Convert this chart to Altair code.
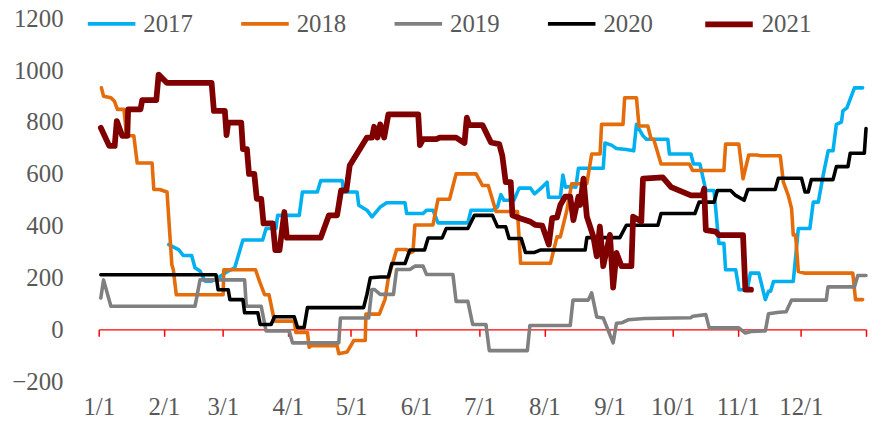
import altair as alt
import pandas as pd

years = ["2017", "2018", "2019", "2020", "2021"]
colors = ["#00B0F0", "#E46C0A", "#808080", "#000000", "#800000"]
widths = [3.6, 3.6, 3.6, 3.6, 5.8]
month_ticks = [(2017, m) for m in range(1, 13)] + [(2018, 1)]
y_ticks = [-200, 0, 200, 400, 600, 800, 1000, 1200]

# day of year (0 = Jan 1) and value
d17 = [33.3, 38, 40.3, 44.2, 45.8, 48.2, 50.6, 53.7, 56.8, 61.6, 64.7, 68.6, 78, 79.6, 84.3, 85.1, 95.4, 96.9, 104, 105.6,
       115.8, 116.6, 122.9, 123.7, 127.6, 130, 133.9, 137, 145.7, 146.5, 154.3, 155.9, 159, 161.4, 175.6, 177.1, 187.3, 189.7,
       191.3, 192.8, 197.5, 200, 205.4, 207.3, 211, 213.3, 214, 219.6, 220.8, 222, 224.4, 227, 228.2, 240, 240.8, 243.9, 246.3,
       251, 254.5, 255.8, 258.9, 260.5, 270.7, 271.5, 281.7, 282.9, 286, 288.8, 292.7, 295, 297.4, 298.2, 303, 304.6, 308.5,
       310, 314, 317.1, 318.6, 319.6, 321, 330.4, 332.8, 338.3, 339.9, 342.3, 344.6, 347, 349.3, 350.9, 353.3, 354, 355.9,
       359.5, 363.4]
v17 = [327, 308, 285, 285, 238, 225, 186, 186, 199, 225, 238, 345, 345, 389, 389, 440, 440, 530, 530, 574,
       574, 530, 530, 479, 460, 434, 472, 489, 489, 447, 447, 460, 460, 411, 411, 460, 460, 472,
       520, 498, 498, 545, 545, 523, 549, 568, 510, 510, 596, 549, 551, 549, 622, 622, 719, 711, 698,
       694, 689, 791, 747, 734, 734, 677, 677, 638, 638, 536, 536, 332, 332, 230, 230, 153, 153,
       217, 217, 115, 147, 147, 185, 185, 389, 389, 491, 491, 594, 689, 689, 791, 800, 843, 855,
       932, 932]

d18 = [1.3, 2.3, 5.8, 7.5, 8.9, 12, 13.3, 16.7, 18.3, 25.4, 26.2, 29, 32.5, 34.8, 35.5, 36.9, 59.2, 59.5, 74.6, 76.5,
       78.9, 81, 83.6, 93, 93.8, 99.3, 100.1, 101, 113.4, 114.2, 118.2, 121.3, 126.8, 127.1, 133.5, 136.2, 137.8, 141.7,
       146.5, 148, 149.5, 150.4, 159, 161.4, 166.9, 170, 179.5, 182.6, 185.3, 189, 199.2, 200.7, 214.9, 218, 219.6, 222.7,
       225, 232.2, 234.5, 238.5, 239.2, 249.4, 250.2, 255.8, 257, 261.2, 262.8, 264, 267.5, 281, 282.5, 297.4, 298.2,
       304.5, 306.5, 309.2, 313, 315, 324.2, 325.7, 328, 329.6, 330.4, 331.5, 332.8, 336, 358.7, 360, 363.4]
v18 = [932, 900, 894, 880, 849, 849, 747, 747, 642, 642, 540, 540, 530, 249, 230, 134, 134, 230, 230, 185,
       134, 134, 32, 32, -12, -12, -69, -63, -63, -94, -87, -43, -43, 59, 59, 116, 199, 308,
       308, 295, 300, 403, 403, 502, 502, 600, 600, 555, 555, 455, 455, 255, 255, 357, 357, 460,
       562, 562, 677, 677, 791, 791, 894, 894, 785, 785, 734, 734, 638, 638, 613, 613, 715,
       715, 581, 673, 673, 670, 670, 568, 517, 466, 364, 364, 223, 217, 217, 115, 115]

d19 = [1, 2.3, 5.8, 45.8, 48.2, 69.4, 70.2, 77.3, 79.6, 90.6, 92.2, 114.2, 115, 128.4, 129.9, 131.2, 133.9, 140.2,
       141.7, 148, 150.4, 154.3, 155.9, 168.5, 170, 175.6, 177.9, 184.2, 185.8, 203.9, 205.1, 224.3, 225.6, 232.9,
       234.5, 236.9, 240, 244.7, 246.3, 249, 251.8, 259.7, 281.7, 282.6, 288.8, 290.4, 304.5, 307.6, 310.3, 317.1,
       318.6, 323.6, 327, 329.6, 346.1, 346.9, 359.5, 361.1, 365]
v19 = [121, 191, 89, 89, 191, 191, 89, 89, -6, -6, -52, -52, 44, 44, 154, 154, 135, 135,
       231, 231, 244, 244, 212, 212, 108, 108, 19, 19, -82, -82, 15, 15, 113, 113,
       141, 48, 44, -52, 24, 26, 37, 42, 45, 51, 57, 6, 6, -14, -8, -6,
       60, 66, 68, 113, 113, 164, 164, 208, 208]

d20 = [1, 55.8, 56.8, 61.6, 62.4, 68.6, 69.4, 75.7, 76.8, 82, 83.6, 93, 94.6, 97.7, 99.3, 126, 127.6, 129.2, 133.9,
       137.8, 139.4, 145.7, 148, 155, 156.7, 163.4, 165.3, 175.6, 178.7, 187.3, 189.7, 193.6, 195.2, 201, 203, 207.3,
       210, 231.4, 232.2, 247.9, 251, 266, 267.5, 283.6, 285.6, 292.7, 294.3, 300.6, 303, 307, 308.8, 321.8, 323.3,
       334.3, 336, 337.5, 339, 349.3, 350.9, 356.4, 357.5, 364.2, 365]
v20 = [211, 211, 153, 153, 115, 115, 64, 64, 19, 19, 49, 49, 7, 7, 84, 84, 135, 199, 202,
       202, 254, 254, 306, 306, 353, 353, 389, 389, 440, 440, 396, 396, 351, 351, 297, 297,
       306, 306, 354, 354, 402, 402, 447, 447, 491, 491, 536, 536, 517, 498, 540, 540, 583,
       583, 530, 530, 578, 578, 628, 628, 680, 680, 775]

d21 = [1, 5, 7.6, 8.6, 11.2, 13.6, 14, 19.9, 20.7, 27.4, 28.5, 32.5, 53.7, 54.8, 60, 60.8, 61.6, 67.8, 68.6, 70.5,
       71.5, 74, 75.2, 77.3, 78.4, 82.8, 84, 86, 88.3, 89.5, 105.6, 109.5, 113.4, 115.3, 117.8, 119.4, 127.6, 130, 131,
       132.6, 133.9, 135.8, 137.8, 152, 152.8, 154.3, 160.6, 162.2, 170, 174, 175.1, 176.3, 182.6, 186.6, 190.5, 192,
       193.6, 196, 196.8, 200.7, 205.4, 207.8, 211, 214.1, 215.7, 218, 219.6, 221.9, 224.3, 225.8, 228.2, 229, 230.6,
       232.2, 235.3, 236.9, 238.4, 240, 243.2, 244.7, 246.3, 248.7, 253.4, 254.2, 258.1, 258.9, 268.3, 272.3, 276,
       281.7, 287.2, 288, 288.8, 293.5, 295, 306.5, 307.6, 310.3]
v21 = [778, 708, 708, 804, 747, 747, 849, 849, 885, 885, 983, 951, 951, 843, 843, 750, 798, 798, 696, 696,
       600, 600, 504, 504, 409, 409, 306, 306, 453, 354, 354, 440, 440, 536, 536, 632, 740, 740, 782,
       740, 791, 740, 830, 830, 711, 734, 734, 740, 740, 719, 817, 788, 788, 721, 715, 670,
       568, 568, 440, 428, 415, 403, 400, 327, 429, 432, 480, 512, 512, 422, 512, 480, 582,
       435, 358, 282, 397, 244, 365, 161, 295, 244, 244, 435, 416, 582, 587, 549, 536,
       517, 517, 543, 383, 377, 364, 364, 153, 153]

series = [("2017", d17, v17), ("2018", d18, v18), ("2019", d19, v19), ("2020", d20, v20), ("2021", d21, v21)]

base = pd.Timestamp("2017-01-01")
rows = []
for yr, ds, vs in series:
    n = min(len(ds), len(vs))
    for i in range(n):
        t = base + pd.to_timedelta(ds[i] * 24 * 60, unit="min")
        rows.append({"year": yr, "date": t.strftime("%Y-%m-%dT%H:%M:%S"), "value": vs[i], "order": i})
df = pd.DataFrame(rows)

FONT = "Liberation Serif"
TXT = "#595959"
FS = 25

legend_common = dict(
    title=None, orient="none", legendX=-13, legendY=-21, direction="horizontal",
    symbolType="stroke", symbolSize=2300, labelFontSize=FS, labelFont=FONT, labelColor=TXT,
    labelOffset=6, columnPadding=40.7, padding=0,
)

x_axis = alt.Axis(
    values=[alt.DateTime(year=y, month=m, date=1) for y, m in month_ticks],
    format="%-m/%-d",
    labelExpr="year(datum.value) > 2017 ? '' : datum.label",
    title=None, grid=False, offset=-52.3,
    domainColor="#FF0000", domainWidth=1.5, tickColor="#FF0000", tickWidth=1.5, tickSize=7,
    labelPadding=59, labelFontSize=FS, labelFont=FONT, labelColor=TXT,
    labelFlush=False, labelOverlap=False, labelBound=False,
)
y_axis = alt.Axis(
    values=y_ticks, format="d", title=None, grid=False, domain=False, ticks=False, tickSize=0,
    labelPadding=36, labelFontSize=FS, labelFont=FONT, labelColor=TXT, labelOverlap=False,
)

chart = alt.Chart(df).mark_line(strokeCap="round", strokeJoin="round", clip=False).encode(
    x=alt.X("date:T", scale=alt.Scale(domain=[alt.DateTime(year=2017, month=1, date=1),
                                              alt.DateTime(year=2018, month=1, date=1)]), axis=x_axis),
    y=alt.Y("value:Q", scale=alt.Scale(domain=[-200, 1200], nice=False, zero=False), axis=y_axis),
    color=alt.Color("year:N", scale=alt.Scale(domain=years, range=colors), legend=alt.Legend(**legend_common)),
    strokeWidth=alt.StrokeWidth("year:N", scale=alt.Scale(type="ordinal", domain=years, range=widths),
                                legend=alt.Legend(**legend_common)),
    order="order:Q",
).properties(
    width=774, height=366,
    padding={"left": 91.5, "top": 8.7, "right": 2, "bottom": 36},
    autosize=alt.AutoSizeParams(type="none"),
).configure_view(strokeWidth=0)

chart.save("out.html", embed_options={"renderer": "svg", "actions": False})
